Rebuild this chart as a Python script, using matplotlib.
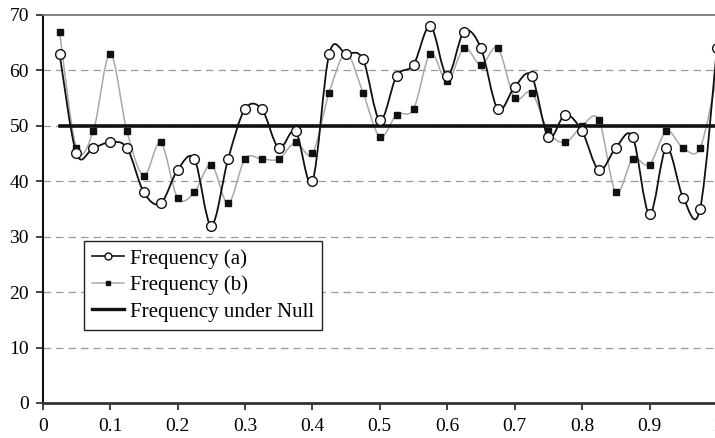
import numpy as np
import matplotlib
matplotlib.use("Agg")
import matplotlib.pyplot as plt
from matplotlib.path import Path
from matplotlib.patches import PathPatch
from matplotlib.lines import Line2D

# x positions of the observations
x_vals = [round(0.025 * i, 3) for i in range(1, 41)]

freq_a = [63, 45, 46, 47, 46, 38, 36, 42, 44, 32,
          44, 53, 53, 46, 49, 40, 63, 63, 62, 51,
          59, 61, 68, 59, 67, 64, 53, 57, 59, 48,
          52, 49, 42, 46, 48, 34, 46, 37, 35, 64]
freq_b = [67, 46, 49, 63, 49, 41, 47, 37, 38, 43,
          36, 44, 44, 44, 47, 45, 56, 63, 56, 48,
          52, 53, 63, 58, 64, 61, 64, 55, 56, 49,
          47, 50, 51, 38, 44, 43, 49, 46, 46, 59]
null_freq = 50

x_ticks = [0, 0.1, 0.2, 0.3, 0.4, 0.5, 0.6, 0.7, 0.8, 0.9, 1]
x_ticklabels = ["0", "0.1", "0.2", "0.3", "0.4", "0.5", "0.6", "0.7", "0.8", "0.9", "1"]
y_ticks = [0, 10, 20, 30, 40, 50, 60, 70]

plt.rcParams["font.family"] = ["Liberation Serif", "DejaVu Serif"]


def smooth_path(xs, ys):
    """Excel-style smoothed line: cubic Bezier segments (Catmull-Rom tangents)."""
    pts = np.column_stack([xs, ys]).astype(float)
    n = len(pts)
    verts = [pts[0]]
    codes = [Path.MOVETO]
    for i in range(n - 1):
        p0 = pts[max(i - 1, 0)]
        p1 = pts[i]
        p2 = pts[i + 1]
        p3 = pts[min(i + 2, n - 1)]
        c1 = p1 + (p2 - p0) / 6.0
        c2 = p2 - (p3 - p1) / 6.0
        verts += [c1, c2, p2]
        codes += [Path.CURVE4] * 3
    return Path(verts, codes)


fig = plt.figure(figsize=(7.15, 4.38), dpi=100)
# the plot runs slightly past the right edge of the picture (x = 1 is cut off)
ax = fig.add_axes([0.0597, 0.080, 0.943, 0.886])

ax.set_xlim(0, 1)
ax.set_ylim(0, 70)

# grid
for yv in y_ticks[1:-1]:
    ax.axhline(yv, color="#9a9a9a", lw=0.9, ls=(0, (6, 4)), zorder=0)

# series b (grey smooth line, black squares)
ax.add_patch(PathPatch(smooth_path(x_vals, freq_b), fill=False,
                       edgecolor="#a8a8a8", lw=1.1, zorder=2))
ax.plot(x_vals, freq_b, ls="none", marker="s", ms=4.2, mfc="#111111",
        mec="#111111", zorder=4)

# null line
ax.plot([x_vals[0], x_vals[-1]], [null_freq, null_freq], color="#111111",
        lw=2.6, zorder=3)

# series a (black smooth line, open circles)
ax.add_patch(PathPatch(smooth_path(x_vals, freq_a), fill=False,
                       edgecolor="#111111", lw=1.3, zorder=3))
ax.plot(x_vals, freq_a, ls="none", marker="o", ms=7, mfc="white",
        mec="#111111", mew=1.0, zorder=5)

ax.set_xticks(x_ticks)
ax.set_xticklabels(x_ticklabels)
ax.set_yticks(y_ticks)
ax.tick_params(axis="both", labelsize=14, direction="out", length=5,
               width=1.2, color="#222222")
ax.tick_params(axis="x", pad=6)
ax.tick_params(axis="y", pad=5)

ax.spines["left"].set_color("#111111")
ax.spines["left"].set_linewidth(1.5)
ax.spines["bottom"].set_color("#333333")
ax.spines["bottom"].set_linewidth(2.0)
ax.spines["top"].set_color("#777777")
ax.spines["top"].set_linewidth(1.3)
ax.spines["right"].set_visible(False)

handles = [
    Line2D([], [], color="#111111", lw=1.2, marker="o", ms=5, mfc="white",
           mec="#111111"),
    Line2D([], [], color="#a8a8a8", lw=1.1, marker="s", ms=3, mfc="#111111",
           mec="#111111"),
    Line2D([], [], color="#111111", lw=2.4),
]
labels = ["Frequency (a)", "Frequency (b)", "Frequency under Null"]
leg = ax.legend(handles, labels, loc="lower left",
                bbox_to_anchor=(0.061, 0.188), fontsize=15, frameon=True,
                fancybox=False, framealpha=1, edgecolor="#222222",
                borderpad=0.4, labelspacing=0.33, handlelength=1.55,
                handletextpad=0.25, borderaxespad=0)
leg.get_frame().set_linewidth(1.0)
leg.set_zorder(10)

fig.savefig("out.png", dpi=100)
